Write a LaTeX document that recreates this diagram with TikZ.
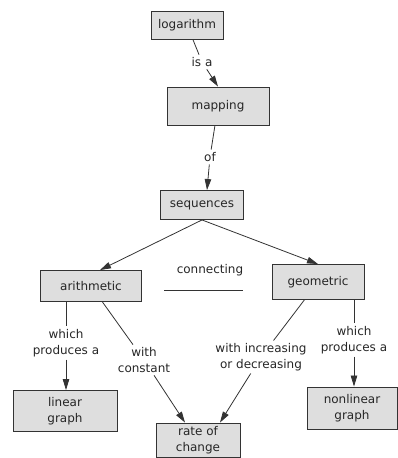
\documentclass[tikz,border=0pt]{standalone}
\usepackage{fontspec}
\setmainfont{DejaVu Sans}
\usetikzlibrary{arrows.meta}

\begin{document}
\begin{tikzpicture}[x=1pt, y=-1pt,
  font=\fontsize{12}{16}\selectfont,
  concept/.style={draw=black!80, line width=0.9pt, fill=black!13, text=black!85, align=center, inner sep=0pt},
  link/.style={text=black!85, align=center, inner sep=2.5pt},
  conn/.style={black!80, line width=0.8pt},
  arr/.style={conn, -{Triangle[length=11pt,width=6.5pt]}}]

\useasboundingbox (0,0) rectangle (398,458);

% concepts
\node[concept, minimum width=72,  minimum height=28] (log)    at (187,25)  {logarithm};
\node[concept, minimum width=102, minimum height=38] (map)    at (218,106) {mapping};
\node[concept, minimum width=83,  minimum height=29] (seq)    at (202,205) {sequences};
\node[concept, minimum width=101, minimum height=31] (arith)  at (91,286)  {arithmetic};
\node[concept, minimum width=92,  minimum height=35] (geo)    at (318,282) {geometric};
\node[concept, minimum width=104, minimum height=41] (linear) at (65,411)  {linear\\graph};
\node[concept, minimum width=90,  minimum height=42] (nonlin) at (352,408) {nonlinear\\graph};
\node[concept, minimum width=84,  minimum height=34] (rate)   at (198,440) {rate of\\change};

% linking phrases
\node[link] (isa)    at (202,62)  {is a};
\node[link] (of)     at (210,157) {of};
\node[link] (con)    at (210,270) {connecting};
\node[link] (whichL) at (66,343)  {which\\produces a};
\node[link] (withC)  at (144,360) {with\\constant};
\node[link] (withI)  at (261,357) {with increasing\\or decreasing};
\node[link] (whichR) at (354,340) {which\\produces a};

% connectors
\draw[conn] (log) -- (isa);
\draw[arr]  (isa) -- (map.north);
\draw[conn] (map) -- (of);
\draw[arr]  (of) -- ([xshift=5pt]seq.north);
\draw[arr]  (seq.south) -- ([xshift=9pt]arith.north);
\draw[arr]  (seq.south) -- (geo.north);

\coordinate (cl) at (164,290);
\coordinate (cr) at (243,290);
\draw[conn] (cl) -- (cr);

\draw[conn] (arith.south -| whichL) -- (whichL);
\draw[arr]  (whichL) -- (linear.north -| whichL);
\draw[conn] (arith) -- (withC);
\draw[arr]  (withC) -- ([xshift=-13pt]rate.north);
\draw[conn] (geo) -- (withI);
\draw[arr]  (withI) -- ([xshift=22pt]rate.north);
\draw[conn] (geo.south -| whichR) -- (whichR);
\draw[arr]  (whichR) -- (nonlin.north -| whichR);

\end{tikzpicture}
\end{document}
